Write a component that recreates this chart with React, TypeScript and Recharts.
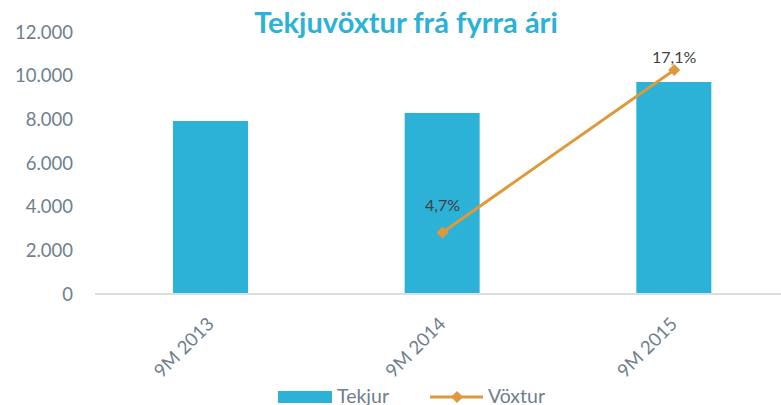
import React from 'react';
import { ComposedChart, Bar, Line, XAxis, YAxis, LabelList } from 'recharts';

const categories = ['9M 2013', '9M 2014', '9M 2015'];
const tekjur = [7925, 8290, 9710];
const voxtur: (number | null)[] = [null, 4.7, 17.1];
const voxturLabels = ['', '4,7%', '17,1%'];
const yTicks = [0, 2000, 4000, 6000, 8000, 10000, 12000];
const title = 'Tekjuvöxtur frá fyrra ári';
const legendNames = ['Tekjur', 'Vöxtur'];

const labelOffsets = [0, 27, 13];

const BLUE = '#2CB1D7';
const ORANGE = '#DE9A3A';
const GRAY = '#6E7F8E';
const FONT = 'Lato, "Open Sans", sans-serif';

const data = categories.map((c, i) => ({
  name: c,
  tekjur: tekjur[i],
  voxtur: voxtur[i],
  label: voxturLabels[i],
}));

const fmt = (v: number) => (v === 0 ? '0' : v.toLocaleString('de-DE'));

const XTick = (props: any) => {
  const { x, y, payload } = props;
  return (
    <text
      x={x}
      y={y}
      dy={6}
      transform={`rotate(-45, ${x}, ${y})`}
      textAnchor="end"
      fill={GRAY}
      fontSize={18.5}
      fontFamily={FONT}
    >
      {payload.value}
    </text>
  );
};

const Diamond = (props: any) => {
  const { cx, cy, index, value } = props;
  if (value == null || cx == null || cy == null) return <g key={`d-${index}`} />;
  const r = 6;
  return (
    <polygon
      key={`d-${index}`}
      points={`${cx},${cy - r} ${cx + r},${cy} ${cx},${cy + r} ${cx - r},${cy}`}
      fill={ORANGE}
    />
  );
};

const PctLabel = (props: any) => {
  const { x, y, index, value } = props;
  if (!value) return null;
  return (
    <text
      x={x}
      y={y - labelOffsets[index]}
      dy="0.35em"
      textAnchor="middle"
      fill="#404040"
      fontSize={16}
      fontFamily={FONT}
    >
      {value}
    </text>
  );
};

export default function App() {
  return (
    <div
      style={{
        position: 'absolute',
        left: 0,
        top: 0,
        width: 781,
        height: 405,
        overflow: 'hidden',
        background: '#fff',
      }}
    >
      <ComposedChart
        width={800}
        height={405}
        data={data}
        margin={{ top: 32, right: 10, bottom: 21, left: 0 }}
      >
        <XAxis
          dataKey="name"
          xAxisId="x"
          interval={0}
          height={90}
          tickLine={false}
          tickSize={0}
          tickMargin={27}
          axisLine={{ stroke: '#D9DEE3', strokeWidth: 2 }}
          tick={<XTick />}
        />
        <YAxis
          yAxisId="left"
          width={95}
          domain={[0, 12000]}
          ticks={yTicks}
          tickFormatter={fmt}
          axisLine={false}
          tickLine={false}
          tickSize={0}
          tickMargin={22}
          tick={{ fill: GRAY, fontSize: 18.5, fontFamily: FONT }}
        />
        <YAxis yAxisId="right" orientation="right" hide domain={[0, 20]} />
        <Bar
          xAxisId="x"
          yAxisId="left"
          dataKey="tekjur"
          name={legendNames[0]}
          fill={BLUE}
          barSize={75}
          isAnimationActive={false}
        />
        <Line
          xAxisId="x"
          yAxisId="right"
          dataKey="voxtur"
          name={legendNames[1]}
          stroke={ORANGE}
          strokeWidth={3}
          dot={<Diamond />}
          activeDot={false}
          connectNulls={false}
          isAnimationActive={false}
        >
          <LabelList dataKey="label" content={<PctLabel />} />
        </Line>
      </ComposedChart>
      <svg
        width={781}
        height={405}
        style={{ position: 'absolute', left: 0, top: 0, pointerEvents: 'none' }}
      >
        <text
          x={406}
          y={33}
          textAnchor="middle"
          fill={BLUE}
          fontSize={29}
          fontWeight={700}
          fontFamily={FONT}
        >
          {title}
        </text>
        <rect x={278} y={391} width={54} height={12} fill={BLUE} />
        <text x={337} y={403} fill={GRAY} fontSize={19.5} fontFamily={FONT}>
          {legendNames[0]}
        </text>
        <line x1={430} y1={397} x2={483} y2={397} stroke={ORANGE} strokeWidth={3} />
        <polygon points="457,391 463,397 457,403 451,397" fill={ORANGE} />
        <text x={488} y={403} fill={GRAY} fontSize={19.5} fontFamily={FONT}>
          {legendNames[1]}
        </text>
      </svg>
    </div>
  );
}
